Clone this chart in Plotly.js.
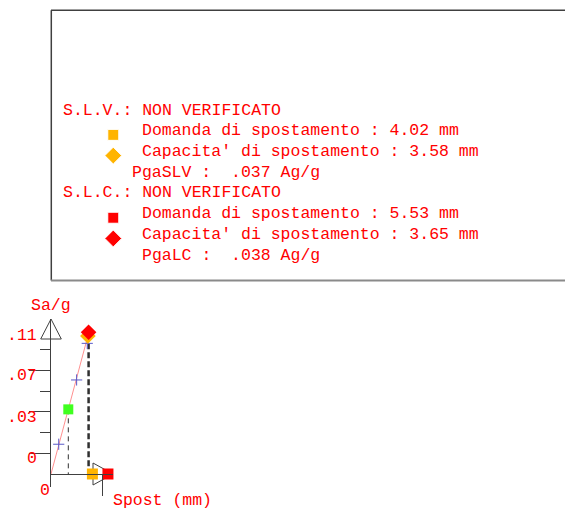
<!DOCTYPE html>
<html><head><meta charset="utf-8">
<script src="https://cdn.plot.ly/plotly-3.0.1.min.js"></script>
<style>html,body{margin:0;padding:0;background:#fff}</style>
</head><body><div id="chart" style="width:565px;height:511px"></div>
<script>
// ---------------- data ----------------
const stateNames   = ["S.L.V.", "S.L.C."];
const verdicts     = ["NON VERIFICATO", "NON VERIFICATO"];
const demandMM     = [4.02, 5.53];        // Domanda di spostamento (mm)
const capacityMM   = [3.58, 3.65];        // Capacita' di spostamento (mm)
const capacitySa   = [0.1127, 0.1157];    // Sa/g at capacity
const pgaNames     = ["PgaSLV", "PgaLC"];
const pgaAg        = [0.037, 0.038];      // Ag/g
const curveMM      = [0, 3.58];           // capacity curve (pink line)
const curveSa      = [0, 0.1127];
const stepMM       = [0.75, 2.49, 3.52];  // intermediate steps (+)
const stepSa       = [0.0243, 0.0768, 0.1067];
const elasticMM    = [1.68];              // green point
const elasticSa    = [0.0528];
const yTickMajor   = [0.0169, 0.0507, 0.0845];
const yTickMinor   = [0.0338, 0.0676, 0.1014];
const yLabelVals   = [0.1135, 0.0803, 0.0460, 0.0128];
const yLabelText   = [".11", ".07", ".03", "0"];
const xTickVals    = [5];
const xAxisTitle   = "Spost (mm)";
const yAxisTitle   = "Sa/g";
const originLabel  = "0";

// ---------------- styling ----------------
const W = 565, H = 511;
const RED = "#ff0000", ORANGE = "#ffb400", GREEN = "#40ff20", AXC = "#404040";
const stateColors = [ORANGE, RED];
const FONT = {family: "Liberation Mono, 'Courier New', monospace", size: 16.5, color: RED};
const px = v => v / W, py = v => 1 - v / H;

const xRange = [0, 6.02];
const yRange = [-0.010617, 0.126582];
const xAxisPos = py(474);

// text block grid (columns / rows)
const colRange = [-61 / 9.9, (W - 61) / 9.9];
const rowRange = [(H - 110) / 20.72, -110 / 20.72];

const traces = [
  {x: curveMM, y: curveSa, mode: "lines", line: {color: "#ff9090", width: 1}},
  {x: [elasticMM[0], elasticMM[0]], y: [elasticSa[0], 0], mode: "lines",
   line: {color: "#303030", width: 1, dash: "5px,4px"}},
  {x: [capacityMM[1], capacityMM[1]], y: [stepSa[2], 0], mode: "lines",
   line: {color: "#303030", width: 2.5, dash: "6px,3px"}},
  {x: stepMM, y: stepSa, mode: "markers", cliponaxis: false,
   marker: {symbol: "cross-thin-open", size: 8, color: "#5a5ac8", opacity: 1, line: {color: "#5a5ac8", width: 1}}},
  {x: elasticMM, y: elasticSa, mode: "markers", cliponaxis: false,
   marker: {symbol: "square", size: 10, color: GREEN, opacity: 1}},
  {x: demandMM, y: demandMM.map(() => 0), mode: "markers", cliponaxis: false,
   marker: {symbol: "square", size: 11, color: stateColors, opacity: 1}},
  {x: capacityMM, y: capacitySa, mode: "markers", cliponaxis: false,
   marker: {symbol: "diamond", size: 12, color: stateColors, opacity: 1}}
];

// text block
const annotations = [];
const mkX = [], mkY = [], mkSym = [], mkCol = [], mkSize = [];
stateNames.forEach((s, i) => {
  const r = 4 * i;
  const lines = [
    [0, r, s + ": " + verdicts[i]],
    [8, r + 1, "Domanda di spostamento : " + demandMM[i].toFixed(2) + " mm"],
    [8, r + 2, "Capacita' di spostamento : " + capacityMM[i].toFixed(2) + " mm"],
    [14 - (pgaNames[i].length + 1), r + 3, pgaNames[i] + " :\u00a0 " + pgaAg[i].toFixed(3).replace(/^0/, "") + " Ag/g"]
  ];
  lines.forEach(([c, rr, t]) => annotations.push({
    xref: "x2", yref: "y2", x: c, y: rr, text: t, showarrow: false,
    xanchor: "left", yanchor: "middle", font: FONT
  }));
  mkX.push(5.28, 5.28); mkY.push(r + 1.2, r + 2.2);
  mkSym.push("square", "diamond"); mkCol.push(stateColors[i], stateColors[i]); mkSize.push(11, 13);
});
traces.push({x: mkX, y: mkY, xaxis: "x2", yaxis: "y2", mode: "markers", cliponaxis: false,
  marker: {symbol: mkSym, color: mkCol, size: mkSize, opacity: 1}});

// axis labels
yLabelText.forEach((t, i) => annotations.push({
  xref: "paper", yref: "y", x: px(38.5), y: yLabelVals[i], text: t, showarrow: false,
  xanchor: "right", yanchor: "middle", font: FONT
}));
annotations.push({xref: "paper", yref: "paper", x: px(50.8), y: py(305), text: yAxisTitle,
  showarrow: false, xanchor: "center", yanchor: "middle", font: FONT});
annotations.push({xref: "paper", yref: "paper", x: px(162.5), y: py(500.7), text: xAxisTitle,
  showarrow: false, xanchor: "center", yanchor: "middle", font: FONT});
annotations.push({xref: "paper", yref: "paper", x: px(45), y: py(490), text: originLabel,
  showarrow: false, xanchor: "center", yanchor: "middle", font: FONT});

const shapes = [
  // frame of the text block
  {type: "line", xref: "paper", yref: "paper", x0: px(51.3), x1: px(51.3), y0: py(10.3), y1: py(280.5), line: {color: AXC, width: 1.5}},
  {type: "line", xref: "paper", yref: "paper", x0: px(51), x1: 1, y0: py(10.3), y1: py(10.3), line: {color: AXC, width: 1.5}},
  {type: "line", xref: "paper", yref: "paper", x0: px(51), x1: 1, y0: py(280.5), y1: py(280.5), line: {color: "#8a8a8a", width: 2}},
  // arrow heads
  {type: "path", layer: "below", xref: "x domain", yref: "y domain", xsizemode: "pixel", ysizemode: "pixel",
   xanchor: 0, yanchor: 1, path: "M-10.3,-20L10.3,-20L0,0Z", line: {color: AXC, width: 1}, fillcolor: "rgba(0,0,0,0)"},
  {type: "path", layer: "below", xref: "x domain", yref: "paper", xsizemode: "pixel", ysizemode: "pixel",
   xanchor: 1, yanchor: xAxisPos, path: "M-20,-11L-20,11L0,0Z", line: {color: AXC, width: 1}, fillcolor: "rgba(0,0,0,0)"}
];

const layout = {
  width: W, height: H, margin: {l: 0, r: 0, t: 0, b: 0},
  paper_bgcolor: "#ffffff", plot_bgcolor: "rgba(0,0,0,0)", showlegend: false, hovermode: false,
  xaxis: {domain: [px(51), px(113)], range: xRange, anchor: "free", position: xAxisPos,
    showline: true, linecolor: AXC, linewidth: 1, showgrid: false, zeroline: false,
    tickmode: "array", tickvals: xTickVals, ticks: "outside", ticklen: 21, tickcolor: AXC, tickwidth: 1,
    showticklabels: false, fixedrange: true},
  yaxis: {domain: [py(487), py(319)], range: yRange, anchor: "x",
    showline: true, linecolor: AXC, linewidth: 1, showgrid: false, zeroline: false,
    tickmode: "array", tickvals: yTickMajor, ticks: "outside", ticklen: 21, tickcolor: AXC, tickwidth: 1,
    minor: {tickmode: "array", tickvals: yTickMinor, ticks: "outside", ticklen: 10, tickcolor: AXC, tickwidth: 1, showgrid: false},
    showticklabels: false, fixedrange: true},
  xaxis2: {domain: [0, 1], range: colRange, anchor: "y2", visible: false, fixedrange: true},
  yaxis2: {domain: [0, 1], range: rowRange, anchor: "x2", visible: false, fixedrange: true},
  annotations: annotations, shapes: shapes
};

Plotly.newPlot("chart", traces, layout, {staticPlot: true, displayModeBar: false});
</script></body></html>
